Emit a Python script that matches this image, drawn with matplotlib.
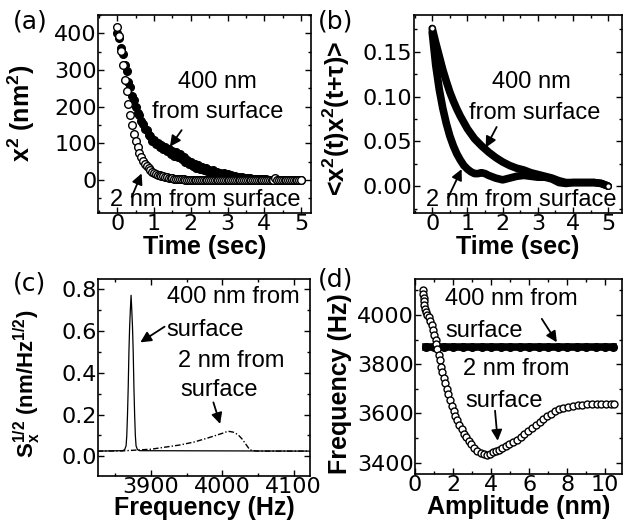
import numpy as np
import matplotlib
matplotlib.use('Agg')
import matplotlib.pyplot as plt
from matplotlib.ticker import MultipleLocator, FormatStrFormatter

plt.rcParams['font.family'] = ['DejaVu Sans']
plt.rcParams['mathtext.fontset'] = 'custom'
plt.rcParams['mathtext.rm'] = 'Liberation Sans'
plt.rcParams['mathtext.bf'] = 'Liberation Sans:bold'
plt.rcParams['mathtext.it'] = 'Liberation Sans:italic'

# ---- (a) x^2 ringdown, sampled every 0.05 s
t_a = np.linspace(0, 5, 101)
x2_400 = [400, 388, 360, 345, 315, 298, 268, 255, 228, 218,
          200, 184, 176, 160, 154, 140, 136, 124, 120, 106,
          110, 98, 102, 90, 96, 84, 90, 78, 84, 72,
          78, 66, 76, 62, 70, 56, 62, 50, 54, 44,
          48, 38, 44, 34, 40, 30, 35, 27, 32, 24,
          28, 22, 26, 19, 23, 17, 20, 15, 18, 13,
          16, 11, 13, 9, 11, 8, 9, 6, 8, 5,
          6, 5, 5, 4, 4, 3, 3, 3, 2, 2,
          2, 2, 1, 1, 1, 1, 1, 1, 0, 1,
          0, 0, 1, 0, 0, 0, 0, 0, 0, 0, 0]
x2_2 = [418, 392, 352, 315, 272, 242, 208, 178, 150, 126,
        106, 90, 75, 63, 53, 45, 38, 32, 27, 23,
        20, 17, 15, 13, 11, 10, 8, 7, 6, 5,
        5, 4, 3, 3, 2, 2, 2, 1, 1, 1,
        1, 1, 0, 1, 0, 0, 0, 1, 0, 0,
        0, 0, 0, 0, 0, 0, 0, 0, 0, 0,
        0, 0, 0, 0, 0, 0, 0, 0, 0, 0,
        0, 0, 0, 0, 0, 0, 0, 0, 0, 0,
        0, 0, 0, 0, 0, 0, 6, 0, 0, 0,
        0, 0, 0, 0, 0, 0, 0, 0, 0, 0, 0]

# ---- (b) autocorrelation
t_b400 = [0, 0.1, 0.2, 0.3, 0.4, 0.5, 0.6, 0.7, 0.8, 0.9, 1.0, 1.2, 1.4, 1.6,
          1.8, 2.0, 2.2, 2.4, 2.6, 2.8, 3.0, 3.2, 3.4, 3.6, 3.8, 4.0, 4.2,
          4.4, 4.6, 4.8, 5.0]
c_400 = [0.176, 0.160, 0.145, 0.130, 0.117, 0.105, 0.095, 0.086, 0.078, 0.071,
         0.064, 0.053, 0.045, 0.038, 0.032, 0.027, 0.023, 0.020, 0.018, 0.015,
         0.013, 0.011, 0.009, 0.006, 0.004, 0.004, 0.004, 0.004, 0.004, 0.003,
         0.0]
t_b2 = [0, 0.1, 0.2, 0.3, 0.4, 0.5, 0.6, 0.7, 0.8, 0.9, 1.0, 1.1, 1.2, 1.3,
        1.4, 1.5, 1.6, 1.8, 2.0, 2.2, 2.4, 2.6, 2.8, 3.0, 3.2, 3.4, 3.6, 3.8,
        4.0, 4.3, 4.6, 4.8, 5.0]
c_2 = [0.172, 0.135, 0.108, 0.087, 0.070, 0.056, 0.045, 0.036, 0.029, 0.023,
       0.019, 0.016, 0.014, 0.014, 0.015, 0.014, 0.012, 0.009, 0.007, 0.009,
       0.011, 0.012, 0.011, 0.010, 0.010, 0.008, 0.004, 0.003, 0.004, 0.004,
       0.004, 0.003, 0.0]

# ---- (c) spectral density
f_400 = [3825, 3860, 3863, 3865, 3866, 3867, 3868, 3869, 3870, 3871, 3872,
         3873, 3874, 3875, 3876, 3877, 3878, 3879, 3881, 3884, 4125]
s_400 = [0.025, 0.027, 0.032, 0.05, 0.10, 0.20, 0.33, 0.50, 0.62, 0.70, 0.77,
         0.70, 0.62, 0.50, 0.33, 0.20, 0.10, 0.05, 0.032, 0.027, 0.025]
f_2 = [3825, 3860, 3880, 3900, 3920, 3940, 3960, 3980, 4000, 4008, 4015,
       4022, 4028, 4033, 4038, 4042, 4050, 4125]
s_2 = [0.025, 0.026, 0.03, 0.034, 0.044, 0.054, 0.068, 0.088, 0.110, 0.120,
       0.116, 0.104, 0.082, 0.058, 0.034, 0.027, 0.025, 0.025]

# ---- (d) frequency vs amplitude
amp_400 = [0.6, 1.0, 1.5, 2.0, 2.5, 3.0, 3.5, 4.0, 4.5, 5.0, 5.5, 6.0, 6.5,
           7.0, 7.5, 8.0, 8.5, 9.0, 9.5, 10.0, 10.4]
fr_400 = [3871, 3871, 3871, 3871, 3871, 3871, 3871, 3871, 3871, 3871, 3871,
          3871, 3871, 3871, 3871, 3871, 3871, 3871, 3871, 3871, 3871]
amp_2 = [0.40, 0.42, 0.45, 0.47, 0.50, 0.53, 0.58, 0.65, 0.72, 0.80, 0.88,
         0.95, 1.02, 1.08, 1.13, 1.18, 1.24, 1.30, 1.37, 1.44, 1.52, 1.60,
         1.68, 1.76, 1.85, 1.94, 2.03, 2.13, 2.23, 2.34, 2.46, 2.58, 2.70,
         2.83, 2.97, 3.12, 3.28, 3.45, 3.62, 3.78, 3.95, 4.10, 4.25, 4.42,
         4.60, 4.78, 4.96, 5.15, 5.35, 5.55, 5.75, 5.95, 6.15, 6.35, 6.55,
         6.75, 6.95, 7.15, 7.35, 7.55, 7.80, 8.05, 8.30, 8.55, 8.80, 9.05,
         9.30, 9.55, 9.80, 10.05, 10.30, 10.45]
fr_2 = [4100, 4085, 4070, 4055, 4040, 4025, 4012, 4000, 3990, 3975, 3958,
        3940, 3920, 3900, 3880, 3860, 3838, 3815, 3790, 3768, 3745, 3722,
        3700, 3678, 3655, 3632, 3610, 3590, 3572, 3553, 3535, 3518, 3503,
        3488, 3474, 3460, 3449, 3440, 3434, 3432, 3436, 3442, 3447, 3453,
        3460, 3467, 3475, 3484, 3494, 3504, 3516, 3528, 3540, 3552, 3564,
        3576, 3588, 3599, 3609, 3617, 3623, 3628, 3632, 3634, 3636, 3637,
        3637, 3638, 3638, 3638, 3638, 3638]

fig = plt.figure(figsize=(6.3, 5.27), dpi=100)
ax_a = fig.add_axes([0.156, 0.5958, 0.3376, 0.3757])
ax_b = fig.add_axes([0.657, 0.5958, 0.3297, 0.3757])
ax_c = fig.add_axes([0.156, 0.0968, 0.336, 0.3738])
ax_d = fig.add_axes([0.6587, 0.1006, 0.329, 0.370])

ann = dict(fontsize=17, family='Liberation Sans')
arr = dict(arrowstyle='-|>', mutation_scale=16, lw=1.3, color='k',
           shrinkA=0, shrinkB=0)
lab = dict(fontsize=18, fontweight='bold', family='Liberation Sans')


def style(ax, xmaj, xmin, ymaj, ymin):
    ax.xaxis.set_major_locator(MultipleLocator(xmaj))
    ax.xaxis.set_minor_locator(MultipleLocator(xmin))
    ax.yaxis.set_major_locator(MultipleLocator(ymaj))
    ax.yaxis.set_minor_locator(MultipleLocator(ymin))
    ax.tick_params(which='both', direction='in', top=True, right=True,
                   width=1.0, labelsize=16)
    ax.tick_params(which='major', length=4.5)
    ax.tick_params(which='minor', length=2.5)
    ax.tick_params(axis='y', pad=1)
    ax.tick_params(axis='x', pad=1)
    for s in ax.spines.values():
        s.set_linewidth(1.2)


# (a)
ax_a.plot(t_a, x2_400, 'o', ms=5.5, mfc='k', mec='k', mew=1)
ax_a.plot(t_a, x2_2, 'o', ms=5.5, mfc='white', mec='k', mew=1)
ax_a.set_xlim(-0.52, 5.27)
ax_a.set_ylim(-90, 450)
style(ax_a, 1, 0.5, 100, 50)
ax_a.set_xlabel('Time (sec)', **lab)
ax_a.set_ylabel(r'x$^{\mathbf{2}}$ (nm$^{\mathbf{2}}$)', **lab)
ax_a.xaxis.set_label_coords(0.5, -0.11)
ax_a.yaxis.set_label_coords(-0.29, 0.505)
ax_a.text(2.71, 268, '400 nm', ha='center', va='center', **ann)
ax_a.text(2.74, 186, 'from surface', ha='center', va='center', **ann)
ax_a.text(2.39, -55, '2 nm from surface', ha='center', va='center', **ann)
ax_a.annotate('', xy=(1.43, 91), xytext=(1.75, 136), arrowprops=arr)
ax_a.annotate('', xy=(0.66, 18), xytext=(0.39, -46), arrowprops=arr)

# (b)
ax_b.plot(t_b400, c_400, '-', color='k', lw=5.5, solid_capstyle='round')
ax_b.plot(t_b2, c_2, '-', color='k', lw=5.5, solid_capstyle='round')
ax_b.plot([t_b400[0], t_b400[-1]], [c_400[0], c_400[-1]], 'o', ms=4,
          mfc='white', mec='k', mew=1)
ax_b.set_xlim(-0.52, 5.38)
ax_b.set_ylim(-0.03, 0.191)
style(ax_b, 1, 0.5, 0.05, 0.025)
ax_b.yaxis.set_major_formatter(FormatStrFormatter('%.2f'))
ax_b.set_xlabel('Time (sec)', **lab)
ax_b.set_ylabel('<x$^{\\mathbf{2}}$(t)x$^{\\mathbf{2}}$(t+τ)>', **lab)
ax_b.xaxis.set_label_coords(0.5, -0.11)
ax_b.yaxis.set_label_coords(-0.30, 0.476)
ax_b.text(2.82, 0.116, '400 nm', ha='center', va='center', **ann)
ax_b.text(2.92, 0.082, 'from surface', ha='center', va='center', **ann)
ax_b.text(2.54, -0.015, '2 nm from surface', ha='center', va='center', **ann)
ax_b.annotate('', xy=(1.52, 0.043), xytext=(1.83, 0.066), arrowprops=arr)
ax_b.annotate('', xy=(0.835, 0.019), xytext=(0.45, -0.013), arrowprops=arr)

# (c)
ax_c.plot(f_2, s_2, color='k', lw=1.0, ls=(0, (4, 1.5, 1, 1.5)))
ax_c.plot(f_400, s_400, color='k', lw=0.9)
ax_c.set_xlim(3826, 4123)
ax_c.set_ylim(-0.094, 0.848)
style(ax_c, 100, 50, 0.2, 0.1)
ax_c.yaxis.set_major_formatter(FormatStrFormatter('%.1f'))
ax_c.set_xlabel('Frequency (Hz)', **lab)
ax_c.set_ylabel(r'S$_{\mathbf{x}}^{\mathbf{1/2}}$ (nm/Hz$^{\mathbf{1/2}}$)',
                fontsize=16, fontweight='bold', family='Liberation Sans')
ax_c.xaxis.set_label_coords(0.5, -0.1)
ax_c.yaxis.set_label_coords(-0.26, 0.47)
ax_c.text(3922, 0.762, '400 nm from', ha='left', va='center', **ann)
ax_c.text(3922, 0.604, 'surface', ha='left', va='center', **ann)
ax_c.text(3938, 0.457, '2 nm from', ha='left', va='center', **ann)
ax_c.text(3941, 0.317, 'surface', ha='left', va='center', **ann)
ax_c.annotate('', xy=(3885, 0.545), xytext=(3919, 0.62), arrowprops=arr)
ax_c.annotate('', xy=(3997, 0.155), xytext=(3987.5, 0.258), arrowprops=arr)

# (d)
ax_d.plot(amp_400, fr_400, '-o', color='k', lw=5.5, ms=5.5, mfc='k', mec='k')
ax_d.plot(amp_2, fr_2, 'o', ms=5, mfc='white', mec='k', mew=1)
ax_d.set_xlim(0, 10.9)
ax_d.set_ylim(3354, 4146)
style(ax_d, 2, 1, 200, 100)
ax_d.set_xlabel('Amplitude (nm)', **lab)
ax_d.set_ylabel('Frequency (Hz)', **lab)
ax_d.xaxis.set_label_coords(0.5, -0.11)
ax_d.yaxis.set_label_coords(-0.305, 0.465)
ax_d.text(1.58, 4065, '400 nm from', ha='left', va='center', **ann)
ax_d.text(1.58, 3936, 'surface', ha='left', va='center', **ann)
ax_d.text(2.54, 3781, '2 nm from', ha='left', va='center', **ann)
ax_d.text(2.63, 3652, 'surface', ha='left', va='center', **ann)
ax_d.annotate('', xy=(7.46, 3889), xytext=(6.67, 3984), arrowprops=arr)
ax_d.annotate('', xy=(4.35, 3489), xytext=(4.21, 3611), arrowprops=arr)

# panel letters
for x, y, s in [(13, 22, '(a)'), (318, 22, '(b)'), (13, 284, '(c)'), (318, 280, '(d)')]:
    fig.text(x / 630, 1 - y / 527, s, ha='left', va='center', fontsize=18)

fig.savefig('out.png', dpi=100)
